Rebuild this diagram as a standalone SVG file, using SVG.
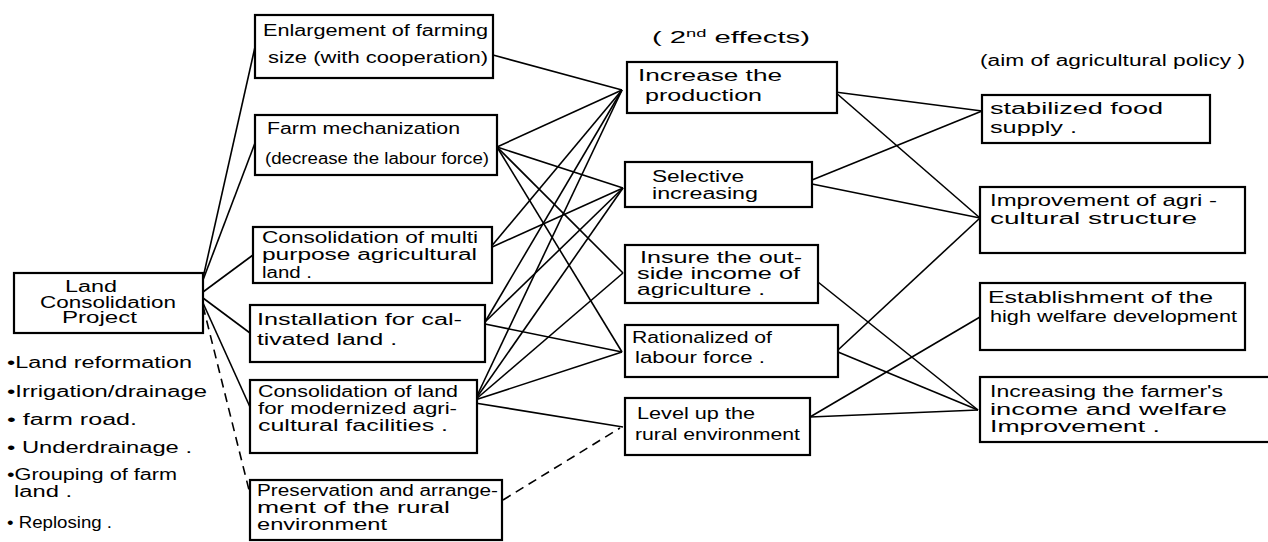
<svg xmlns="http://www.w3.org/2000/svg" width="1268" height="542" viewBox="0 0 1268 542">
<style>
.box{fill:#fff;stroke:#000;stroke-width:2.2}
.t{font-family:"Liberation Sans",Arial,sans-serif;font-size:16px;fill:#000}
.c{stroke:#000;stroke-width:1.6;fill:none}
.d{stroke:#000;stroke-width:1.6;fill:none;stroke-dasharray:9 6}
</style>
<rect width="1268" height="542" fill="#fff"/>
<g id="connectors">
<line class="c" x1="203" y1="278" x2="255" y2="47"/>
<line class="c" x1="203" y1="280" x2="255" y2="143"/>
<line class="c" x1="203" y1="292" x2="253" y2="255"/>
<line class="c" x1="203" y1="298" x2="250" y2="333"/>
<line class="c" x1="203" y1="303" x2="250" y2="407"/>
<line class="d" x1="203" y1="306" x2="249" y2="490"/>
<line class="c" x1="493" y1="55" x2="622" y2="90"/>
<line class="c" x1="497" y1="147" x2="622" y2="90"/>
<line class="c" x1="497" y1="147" x2="623" y2="188"/>
<line class="c" x1="497" y1="147" x2="623" y2="273"/>
<line class="c" x1="497" y1="147" x2="622" y2="352"/>
<line class="c" x1="490" y1="248" x2="622" y2="90"/>
<line class="c" x1="490" y1="248" x2="623" y2="188"/>
<line class="c" x1="485" y1="322" x2="622" y2="90"/>
<line class="c" x1="485" y1="322" x2="623" y2="188"/>
<line class="c" x1="485" y1="324" x2="622" y2="352"/>
<line class="c" x1="475" y1="400" x2="622" y2="90"/>
<line class="c" x1="475" y1="400" x2="623" y2="188"/>
<line class="c" x1="475" y1="400" x2="623" y2="273"/>
<line class="c" x1="475" y1="400" x2="622" y2="352"/>
<line class="c" x1="475" y1="403" x2="623" y2="427"/>
<line class="d" x1="503" y1="500" x2="620" y2="428"/>
<line class="c" x1="835" y1="92" x2="982" y2="111"/>
<line class="c" x1="835" y1="92" x2="980" y2="218"/>
<line class="c" x1="812" y1="180" x2="982" y2="111"/>
<line class="c" x1="812" y1="184" x2="980" y2="218"/>
<line class="c" x1="818" y1="282" x2="978" y2="410"/>
<line class="c" x1="838" y1="350" x2="980" y2="218"/>
<line class="c" x1="838" y1="352" x2="978" y2="410"/>
<line class="c" x1="810" y1="417" x2="980" y2="317"/>
<line class="c" x1="810" y1="417" x2="978" y2="410"/>
</g>
<g id="n-lcp">
<rect class="box" x="14" y="273" width="189" height="60"/>
<text class="t" x="65" y="292" textLength="52" lengthAdjust="spacingAndGlyphs">Land</text>
<text class="t" x="108" y="308" text-anchor="middle" textLength="136" lengthAdjust="spacingAndGlyphs">Consolidation</text>
<text class="t" x="62" y="323" textLength="75" lengthAdjust="spacingAndGlyphs">Project</text>
</g>
<g id="n-list">
<text class="t" x="7" y="368" textLength="185" lengthAdjust="spacingAndGlyphs">•Land reformation</text>
<text class="t" x="7" y="397" textLength="200" lengthAdjust="spacingAndGlyphs">•Irrigation/drainage</text>
<text class="t" x="7" y="425" textLength="130" lengthAdjust="spacingAndGlyphs">• farm road.</text>
<text class="t" x="7" y="453" textLength="185" lengthAdjust="spacingAndGlyphs">• Underdrainage .</text>
<text class="t" x="7" y="480" textLength="170" lengthAdjust="spacingAndGlyphs">•Grouping of farm</text>
<text class="t" x="14" y="497" textLength="58" lengthAdjust="spacingAndGlyphs">land .</text>
<text class="t" x="7" y="528" textLength="105" lengthAdjust="spacingAndGlyphs">• Replosing .</text>
</g>
<g id="n-enlarge">
<rect class="box" x="255" y="15" width="238" height="63"/>
<text class="t" x="263" y="36" textLength="225" lengthAdjust="spacingAndGlyphs">Enlargement of farming</text>
<text class="t" x="268" y="63" textLength="220" lengthAdjust="spacingAndGlyphs">size (with cooperation)</text>
</g>
<g id="n-mech">
<rect class="box" x="255" y="115" width="242" height="60"/>
<text class="t" x="267" y="134" textLength="193" lengthAdjust="spacingAndGlyphs">Farm mechanization</text>
<text class="t" x="265" y="164" textLength="224" lengthAdjust="spacingAndGlyphs">(decrease the labour force)</text>
</g>
<g id="n-multi">
<rect class="box" x="253" y="227" width="239" height="56"/>
<text class="t" x="262" y="243" textLength="216" lengthAdjust="spacingAndGlyphs">Consolidation of multi</text>
<text class="t" x="262" y="260" textLength="215" lengthAdjust="spacingAndGlyphs">purpose agricultural</text>
<text class="t" x="262" y="278" textLength="50" lengthAdjust="spacingAndGlyphs">land .</text>
</g>
<g id="n-install">
<rect class="box" x="250" y="305" width="235" height="57"/>
<text class="t" x="257" y="325" textLength="205" lengthAdjust="spacingAndGlyphs">Installation for cal-</text>
<text class="t" x="257" y="345" textLength="140" lengthAdjust="spacingAndGlyphs">tivated  land .</text>
</g>
<g id="n-consland">
<rect class="box" x="250" y="380" width="227" height="73"/>
<text class="t" x="258" y="397" textLength="200" lengthAdjust="spacingAndGlyphs">Consolidation of land</text>
<text class="t" x="258" y="414" textLength="199" lengthAdjust="spacingAndGlyphs">for modernized agri-</text>
<text class="t" x="258" y="431" textLength="190" lengthAdjust="spacingAndGlyphs">cultural   facilities .</text>
</g>
<g id="n-preserve">
<rect class="box" x="250" y="480" width="252" height="60"/>
<text class="t" x="257" y="496" textLength="241" lengthAdjust="spacingAndGlyphs">Preservation and arrange-</text>
<text class="t" x="257" y="513" textLength="193" lengthAdjust="spacingAndGlyphs">ment of the rural</text>
<text class="t" x="257" y="530" textLength="130" lengthAdjust="spacingAndGlyphs">environment</text>
</g>
<g id="lbl-2nd">
<text class="t" x="652" y="43" textLength="158" lengthAdjust="spacingAndGlyphs">( 2<tspan font-size="10" dy="-6">nd</tspan><tspan dy="6"> effects)</tspan></text>
</g>
<g id="n-increase">
<rect class="box" x="627" y="62" width="210" height="51"/>
<text class="t" x="638" y="81" textLength="144" lengthAdjust="spacingAndGlyphs">Increase  the</text>
<text class="t" x="645" y="101" textLength="117" lengthAdjust="spacingAndGlyphs">production</text>
</g>
<g id="n-selective">
<rect class="box" x="625" y="162" width="187" height="45"/>
<text class="t" x="652" y="182" textLength="92" lengthAdjust="spacingAndGlyphs">Selective</text>
<text class="t" x="652" y="199" textLength="106" lengthAdjust="spacingAndGlyphs">increasing</text>
</g>
<g id="n-insure">
<rect class="box" x="625" y="245" width="193" height="58"/>
<text class="t" x="640" y="263" textLength="162" lengthAdjust="spacingAndGlyphs">Insure the out-</text>
<text class="t" x="637" y="279" textLength="163" lengthAdjust="spacingAndGlyphs">side income of</text>
<text class="t" x="637" y="295" textLength="128" lengthAdjust="spacingAndGlyphs">agriculture .</text>
</g>
<g id="n-ration">
<rect class="box" x="625" y="325" width="213" height="52"/>
<text class="t" x="632" y="343" textLength="140" lengthAdjust="spacingAndGlyphs">Rationalized of</text>
<text class="t" x="635" y="363" textLength="130" lengthAdjust="spacingAndGlyphs">labour  force .</text>
</g>
<g id="n-level">
<rect class="box" x="625" y="398" width="185" height="57"/>
<text class="t" x="637" y="419" textLength="118" lengthAdjust="spacingAndGlyphs">Level up the</text>
<text class="t" x="635" y="440" textLength="165" lengthAdjust="spacingAndGlyphs">rural environment</text>
</g>
<g id="lbl-aim">
<text class="t" x="980" y="66" textLength="265" lengthAdjust="spacingAndGlyphs">(aim of agricultural policy )</text>
</g>
<g id="n-stab">
<rect class="box" x="982" y="95" width="228" height="48"/>
<text class="t" x="990" y="114" textLength="173" lengthAdjust="spacingAndGlyphs">stabilized  food</text>
<text class="t" x="990" y="133" textLength="87" lengthAdjust="spacingAndGlyphs">supply .</text>
</g>
<g id="n-improve">
<rect class="box" x="980" y="187" width="265" height="66"/>
<text class="t" x="990" y="206" textLength="227" lengthAdjust="spacingAndGlyphs">Improvement of agri -</text>
<text class="t" x="990" y="224" textLength="207" lengthAdjust="spacingAndGlyphs">cultural  structure</text>
</g>
<g id="n-establish">
<rect class="box" x="980" y="283" width="265" height="67"/>
<text class="t" x="988" y="303" textLength="225" lengthAdjust="spacingAndGlyphs">Establishment of the</text>
<text class="t" x="990" y="322" textLength="247" lengthAdjust="spacingAndGlyphs">high welfare development</text>
</g>
<g id="n-income">
<rect class="box" x="980" y="377" width="292" height="65"/>
<text class="t" x="990" y="397" textLength="233" lengthAdjust="spacingAndGlyphs">Increasing the farmer's</text>
<text class="t" x="990" y="415" textLength="237" lengthAdjust="spacingAndGlyphs">income  and welfare</text>
<text class="t" x="990" y="432" textLength="170" lengthAdjust="spacingAndGlyphs">Improvement .</text>
</g>
</svg>
